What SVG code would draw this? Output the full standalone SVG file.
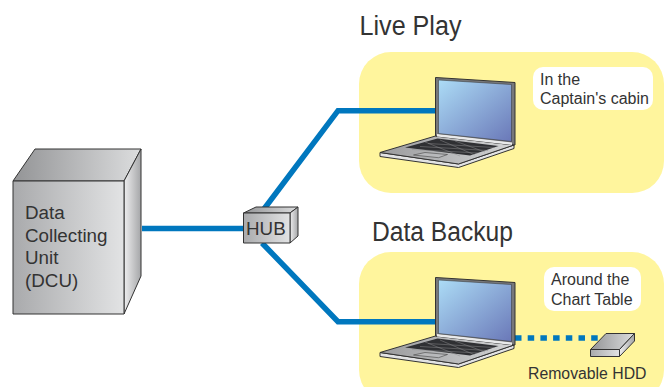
<svg xmlns="http://www.w3.org/2000/svg" width="672" height="387" viewBox="0 0 672 387">
<style>
text{font-family:"Liberation Sans",Arial,sans-serif;fill:#333}
.zone{fill:#fff59d}
.label{fill:#fff}
.wire{fill:none;stroke:#0077be;stroke-width:5.5}
.ln{stroke:#333;stroke-width:1;stroke-linejoin:round}
.t{font-size:16px}
.b{font-size:18.8px}
.h{font-size:27px}
</style>
<defs>
<linearGradient id="front" x1="0" y1="0" x2="1" y2="0"><stop offset="0" stop-color="#a9aaac"/><stop offset="1" stop-color="#e2e3e4"/></linearGradient>
<linearGradient id="side" x1="0" y1="0" x2="1" y2="0"><stop offset="0" stop-color="#eeeeef"/><stop offset="1" stop-color="#a5a6a8"/></linearGradient>
<linearGradient id="top" x1="0" y1="0" x2="1" y2="0"><stop offset="0" stop-color="#939496"/><stop offset="1" stop-color="#dcddde"/></linearGradient>
<linearGradient id="screen" x1="0" y1="0" x2="1" y2="1"><stop offset="0" stop-color="#acdcf6"/><stop offset="1" stop-color="#6a78b8"/></linearGradient>
<linearGradient id="deck" x1="0" y1="0" x2="1" y2="0"><stop offset="0" stop-color="#9a9b9d"/><stop offset="1" stop-color="#d4d5d6"/></linearGradient>
<g id="laptop">
<path class="ln" fill="#e2e3e4" d="M380 152.5L380 156.5L458.5 167.5L514 148.5L514 145L458.5 164Z"/>
<path class="ln" fill="url(#deck)" d="M380 152.5L435.5 136L514 145L458.5 164Z"/>
<path fill="#2f3033" d="M405 147.5L437.5 138.5L498.5 146L470 155.5Z"/>
<path fill="none" stroke="#8a8b8d" stroke-width=".5" d="M412 149.5L478 153M420 146.5L488 150.5M428 143.5L494 147.5M425 142L460 156M440 140L475 155M455 141L485 152"/>
<path fill="#b8b9bb" stroke="#444" stroke-width=".6" d="M413.5 155L425 152.5L447.5 154.5L438.5 157.7Z"/>
<path class="ln" fill="#77787a" d="M435.5 77.5L515 82.5L515 145L435.5 136Z"/>
<path fill="#e9eaeb" d="M437 134L512 142.5L512 145L437 136.5Z"/>
<path fill="url(#screen)" stroke="#333" stroke-width=".5" d="M438.5 80L511.5 84.5L511.5 141.5L438.5 133.5Z"/>
</g>
</defs>
<g id="zone-live"><rect class="zone" x="359" y="52" width="305" height="141" rx="32"/></g>
<g id="zone-backup"><rect class="zone" x="359" y="252" width="305" height="150" rx="32"/></g>
<g id="connectors">
<path class="wire" d="M142 228.5H245"/>
<path class="wire" d="M264 209L338 110.7H437"/>
<path class="wire" d="M262 243L338 321.7H437"/>
<path class="wire" stroke-dasharray="6.5 6.2" stroke-width="6" d="M515 338H600"/>
</g>
<g id="dcu">
<path class="ln" fill="url(#top)" d="M13 181L35 149H141L124 181Z"/>
<path class="ln" fill="url(#side)" d="M124 181L141 149V276L124 314Z"/>
<rect class="ln" fill="url(#front)" x="13" y="181" width="111" height="133"/>
<text class="b" x="25" y="218.5">Data</text>
<text class="b" x="25" y="241.5">Collecting</text>
<text class="b" x="25" y="264">Unit</text>
<text class="b" x="25" y="286.5">(DCU)</text>
</g>
<g id="hub">
<path class="ln" fill="url(#top)" d="M243.5 213L256 207H298L290 213Z"/>
<path class="ln" fill="url(#side)" d="M290 213L298 207V236L290 243Z"/>
<rect class="ln" fill="url(#front)" x="243.5" y="213" width="46.5" height="30"/>
<text class="b" x="246" y="235">HUB</text>
</g>
<g id="laptop-live"><use href="#laptop"/></g>
<g id="laptop-backup"><use href="#laptop" y="200"/></g>
<g id="label-live">
<rect class="label" x="533" y="67" width="120" height="43" rx="10"/>
<text class="t" x="540" y="85">In the</text>
<text class="t" x="540" y="104">Captain's cabin</text>
</g>
<g id="label-backup">
<rect class="label" x="544" y="267" width="97" height="44" rx="10"/>
<text class="t" x="551" y="285">Around the</text>
<text class="t" x="551" y="305">Chart Table</text>
</g>
<g id="hdd">
<path class="ln" stroke-width=".8" fill="url(#top)" d="M590.5 349.5L606 333.5H634.5L619.5 349.5Z"/>
<path class="ln" stroke-width=".8" fill="url(#side)" d="M619.5 349.5L634.5 333.5V341L619.5 356.5Z"/>
<rect class="ln" stroke-width=".8" fill="url(#front)" x="590.5" y="349.5" width="29" height="7"/>
<text x="528" y="379" style="font-size:15.8px">Removable HDD</text>
</g>
<text class="h" x="359.5" y="35" textLength="102" lengthAdjust="spacingAndGlyphs">Live Play</text>
<text class="h" x="372" y="241" textLength="141" lengthAdjust="spacingAndGlyphs">Data Backup</text>
</svg>
